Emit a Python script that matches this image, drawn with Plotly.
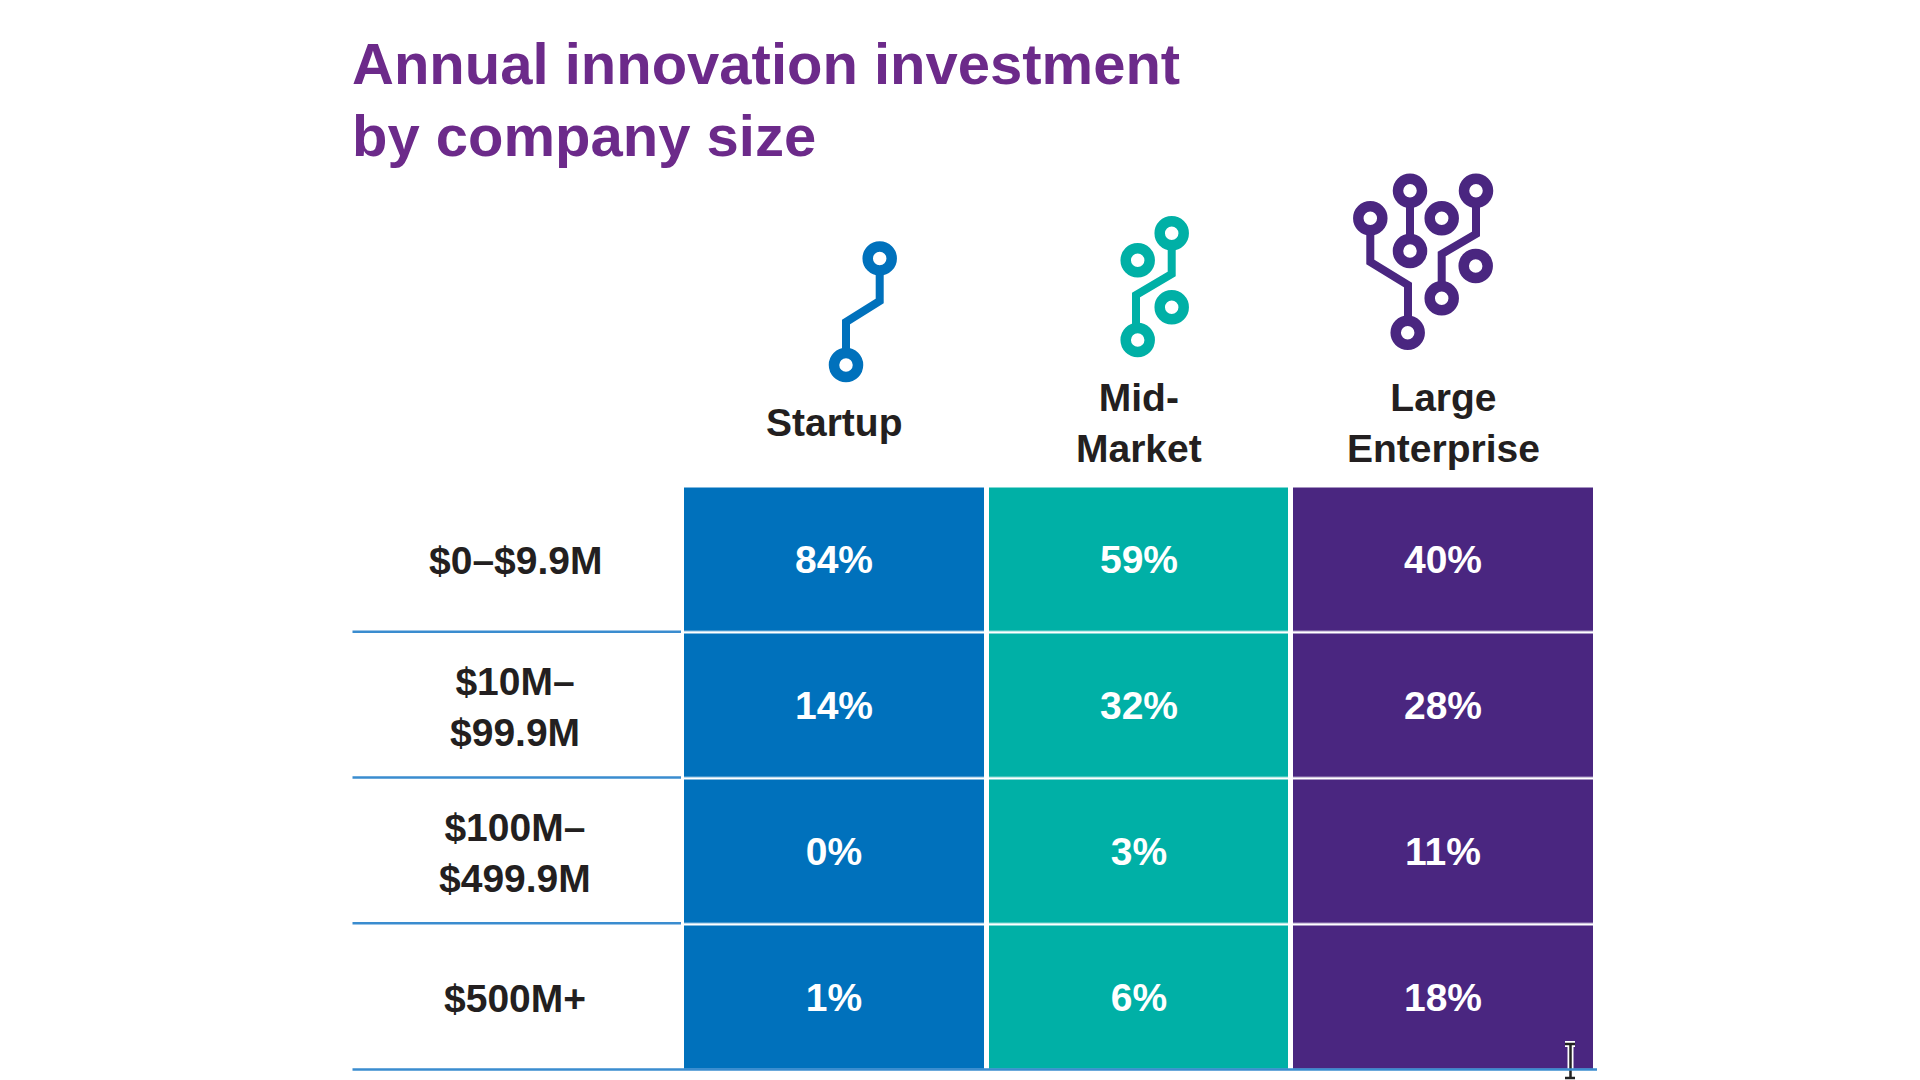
import plotly.graph_objects as go

title_lines = ["Annual innovation investment", "by company size"]
company_sizes = ["Startup", "Mid-<br>Market", "Large<br>Enterprise"]
revenue_bands = ["$0–$9.9M", "$10M–<br>$99.9M", "$100M–<br>$499.9M", "$500M+"]
startup_pct = [84, 14, 0, 1]
mid_market_pct = [59, 32, 3, 6]
large_enterprise_pct = [40, 28, 11, 18]

BLUE = "#0071bc"
TEAL = "#00b0a6"
PURPLE = "#4a2680"
TITLE_PURPLE = "#6c2a8a"
INK = "#231f20"
RULE = "#3a8ccf"
W, H = 1920, 1080
FONT = "Liberation Sans"

# icons are traced in screen pixels: (wire paths, ring centres)
icons = [
    (BLUE,
     [[(879.7, 258), (879.7, 301), (846, 322), (846, 365)]],
     [(879.7, 258.4), (846, 365)]),
    (TEAL,
     [[(1171.7, 233), (1171.7, 274), (1136, 295), (1136, 340)]],
     [(1171.7, 233.3), (1137.7, 260.3), (1171.7, 307.3), (1137.7, 340)]),
    (PURPLE,
     [[(1410, 191), (1410, 251)],
      [(1370.3, 218), (1370.3, 262), (1408, 285), (1408, 333)],
      [(1476, 191), (1476, 234), (1441.7, 254), (1441.7, 298)]],
     [(1410, 190.7), (1476, 190.7), (1370.3, 218.3), (1441.7, 218.3),
      (1410, 251), (1475.7, 266), (1441.7, 298.3), (1407.7, 332.7)]),
]
cursor_x = [1565, 1575, None, 1570.5, 1570.5, None, 1565, 1575]
cursor_y = [1044, 1044, None, 1044, 1078, None, 1078, 1078]


def px(x):
    return x / W


def py(y):
    return 1 - y / H


values = [list(row) for row in zip(startup_pct, mid_market_pct, large_enterprise_pct)]
labels = [[f"{v}%" for v in row] for row in values]
columns = list(range(len(company_sizes)))
rows = list(range(len(revenue_bands)))

fig = go.Figure()

# cell colour follows the column, the printed number follows the data
fig.add_trace(go.Heatmap(
    x=columns, y=rows,
    z=[columns for _ in rows],
    text=labels,
    texttemplate="%{text}",
    textfont=dict(family=FONT, size=39, color="white", weight="bold"),
    colorscale=[[0, BLUE], [0.5, TEAL], [1, PURPLE]],
    zmin=0, zmax=2,
    showscale=False,
    xgap=5, ygap=2.5,
    hoverinfo="skip",
    xaxis="x", yaxis="y",
))

# icons live on a second full-page axis pair in screen pixels
for colour, wires, rings in icons:
    for wire in wires:
        fig.add_trace(go.Scatter(
            x=[p[0] for p in wire], y=[p[1] for p in wire],
            mode="lines", line=dict(color=colour, width=8),
            xaxis="x2", yaxis="y2", showlegend=False, hoverinfo="skip",
        ))
    fig.add_trace(go.Scatter(
        x=[p[0] for p in rings], y=[p[1] for p in rings],
        mode="markers",
        marker=dict(size=24, color="white", line=dict(color=colour, width=10.5)),
        xaxis="x2", yaxis="y2", showlegend=False, hoverinfo="skip",
    ))

# text cursor caught in the screenshot
for colour, width in [("white", 6), ("#222222", 2.5)]:
    fig.add_trace(go.Scatter(
        x=cursor_x, y=cursor_y,
        mode="lines", line=dict(color=colour, width=width),
        xaxis="x2", yaxis="y2", showlegend=False, hoverinfo="skip",
    ))

annotations = []
for i, line in enumerate(title_lines):
    annotations.append(dict(
        text=line, xref="paper", yref="paper", x=px(350), y=py(64 + i * 72),
        xanchor="left", yanchor="middle", showarrow=False,
        font=dict(family=FONT, size=58, color=TITLE_PURPLE, weight="bold"),
    ))
for col, name in zip(columns, company_sizes):
    annotations.append(dict(
        text=name, x=col, y=py(423), xref="x", yref="paper",
        showarrow=False, xanchor="center", yanchor="middle", align="center",
        font=dict(family=FONT, size=39, color=INK, weight="bold"),
    ))
for row, band in zip(rows, revenue_bands):
    annotations.append(dict(
        text=band, x=px(515), y=row, xref="paper", yref="y", yshift=-1,
        showarrow=False, xanchor="center", yanchor="middle", align="center",
        font=dict(family=FONT, size=39, color=INK, weight="bold"),
    ))

shapes = []
for rule_y in [631.8, 777.6, 923.3]:
    shapes.append(dict(type="line", xref="paper", yref="paper",
                       x0=px(352.5), x1=px(681), y0=py(rule_y), y1=py(rule_y),
                       line=dict(color=RULE, width=2.5)))
shapes.append(dict(type="line", xref="paper", yref="paper",
                   x0=px(352.5), x1=px(1597), y0=py(1069.5), y1=py(1069.5),
                   line=dict(color=RULE, width=2.5)))

fig.update_layout(
    width=W, height=H,
    margin=dict(l=0, r=0, t=0, b=0),
    paper_bgcolor="white", plot_bgcolor="rgba(0,0,0,0)",
    showlegend=False,
    xaxis=dict(domain=[px(682), px(1595.5)], range=[-0.5, 2.5],
               visible=False, fixedrange=True),
    yaxis=dict(domain=[py(1070.5), py(486.5)], range=[3.5, -0.5],
               visible=False, fixedrange=True),
    xaxis2=dict(domain=[0, 1], range=[0, W], visible=False, fixedrange=True,
                anchor="y2"),
    yaxis2=dict(domain=[0, 1], range=[H, 0], visible=False, fixedrange=True,
                anchor="x2"),
    annotations=annotations,
    shapes=shapes,
)

fig.write_html("out.html", config=dict(displayModeBar=False),
               post_script="document.body.style.margin='0';")
